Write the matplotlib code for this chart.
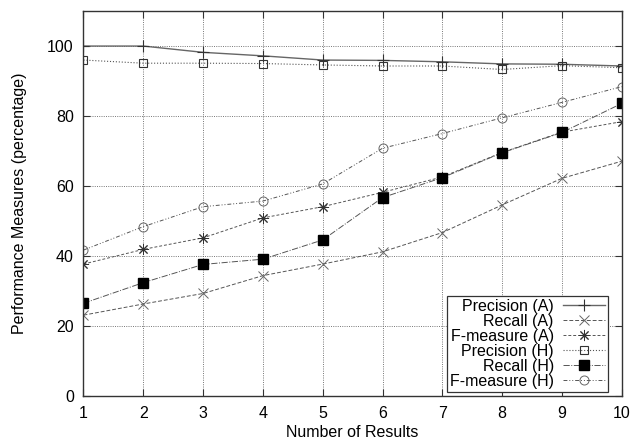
import numpy as np
from matplotlib import pyplot as plt

plt.rcParams['font.family'] = ['Liberation Sans', 'DejaVu Sans']

n = [1, 2, 3, 4, 5, 6, 7, 8, 9, 10]

prec_a = [100, 100, 98.2, 97.2, 96.0, 95.9, 95.5, 94.9, 94.8, 94.3]
rec_a = [23.1, 26.3, 29.3, 34.4, 37.7, 41.2, 46.7, 54.6, 62.2, 67.1]
fm_a = [37.7, 41.9, 45.2, 50.9, 54.1, 58.2, 62.6, 69.6, 75.4, 78.4]
prec_h = [96.0, 95.1, 95.1, 95.0, 94.6, 94.3, 94.3, 93.3, 94.4, 93.8]
rec_h = [26.5, 32.4, 37.6, 39.1, 44.6, 56.7, 62.4, 69.5, 75.3, 83.6]
fm_h = [41.7, 48.4, 54.1, 55.7, 60.6, 70.8, 75.0, 79.5, 83.9, 88.4]

fig = plt.figure(figsize=(6.34, 4.44), dpi=100)
ax = fig.add_axes([0.1317, 0.1081, 0.849, 0.867])

c = '#555555'
ax.plot(n, prec_a, '-', color='#666666', lw=1.0, marker='+', ms=9, mew=0.8, mec='#333333', label='Precision (A)')
ax.plot(n, rec_a, '--', color=c, lw=0.7, dashes=(4, 2), marker='x', ms=7, mew=0.7, mec='#666666', label='Recall (A)')
ax.plot(n, fm_a, '--', color=c, lw=0.7, dashes=(3, 2), marker=(8, 2, 0), ms=8, mew=0.7, mec='#333333', label='F-measure (A)')
ax.plot(n, prec_h, ':', color=c, lw=0.8, marker='s', ms=6, mew=0.8, mfc='none', mec='#333333', label='Precision (H)')
ax.plot(n, rec_h, '-.', color=c, lw=0.7, marker='s', ms=6.5, mfc='black', mec='black', label='Recall (H)')
ax.plot(n, fm_h, color=c, lw=0.7, dashes=(4, 2, 1, 2, 1, 2), marker='o', ms=6.5, mew=0.7, mfc='none', mec='#666666', label='F-measure (H)')

ax.set_xlim(1, 10)
ax.set_ylim(0, 110)
ax.set_xticks(n)
ax.set_yticks([0, 20, 40, 60, 80, 100])
ax.tick_params(direction='in', length=5, top=True, right=True, labelsize=11.5, pad=7, color='#333333')
ax.grid(color='#666666', linestyle=(0, (1.2, 1.5)), linewidth=0.6)
for s in ax.spines.values():
    s.set_color('#333333')
    s.set_linewidth(1.0)

ax.set_xlabel("Number of Results", fontsize=11.5, labelpad=3)
ax.set_ylabel("Performance Measures (percentage)", fontsize=11.5)
ax.yaxis.set_label_coords(-0.105, 0.5)

leg = ax.legend(loc='lower right', bbox_to_anchor=(0.9746, 0.0104), markerfirst=False, fontsize=11.5,
                fancybox=False, framealpha=1, edgecolor='#333333', handlelength=2.6, labelspacing=0.0,
                borderpad=0.2, handletextpad=0.6, borderaxespad=0)
leg.get_frame().set_linewidth(0.9)

plt.savefig('out.png', dpi=100)
